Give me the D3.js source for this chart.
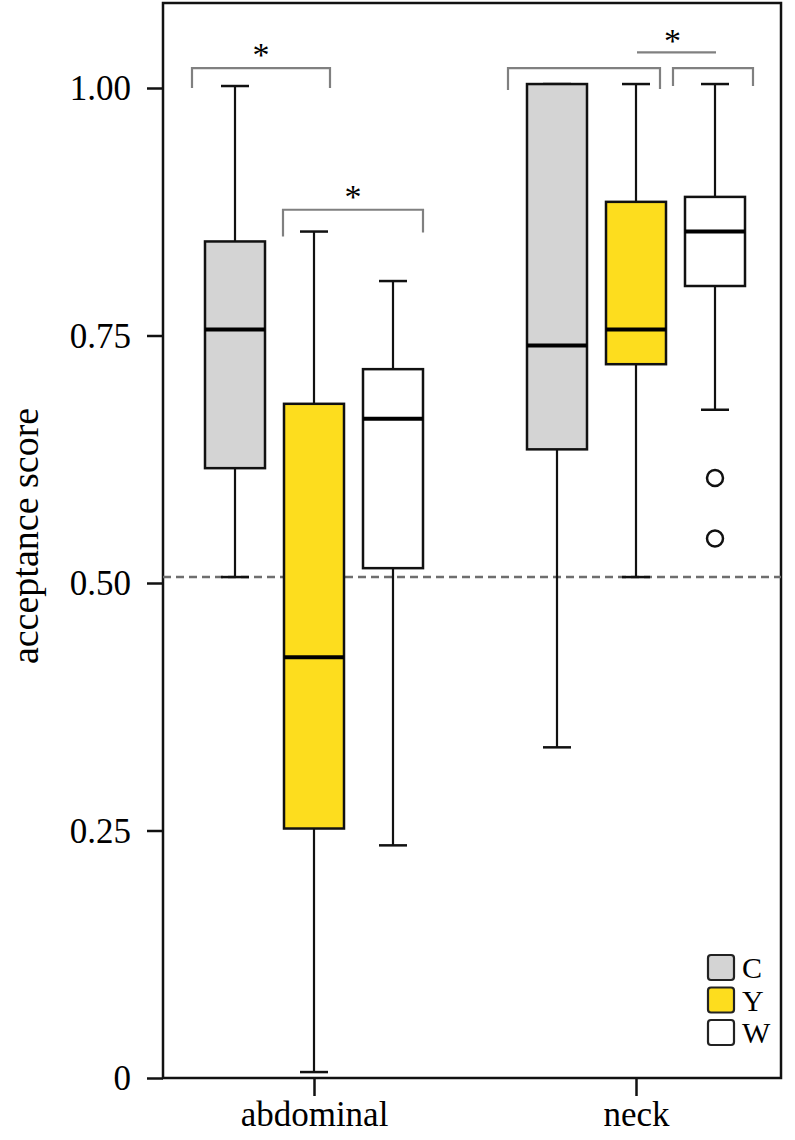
<!DOCTYPE html>
<html>
<head>
<meta charset="utf-8">
<script src="https://cdn.jsdelivr.net/npm/d3@7"></script>
<style>
  html, body { margin: 0; padding: 0; background: #fff; }
  svg { display: block; }
  text { font-family: "Liberation Serif", "Times New Roman", serif; fill: #000; }
</style>
</head>
<body>
<svg id="chart" width="795" height="1140"></svg>
<script>
// ---- data ----
const categories = ["abdominal", "neck"];
const groups = ["C", "Y", "W"];
const groupColors = ["#d4d4d4", "#fddd1e", "#ffffff"];
// [min, q1, median, q3, max]
const abdominalC = [0.506, 0.616, 0.756, 0.845, 1.002];
const abdominalY = [0.006, 0.252, 0.425, 0.681, 0.855];
const abdominalW = [0.235, 0.515, 0.666, 0.716, 0.805];
const neckC = [0.334, 0.635, 0.740, 1.004, 1.004];
const neckY = [0.506, 0.721, 0.756, 0.885, 1.004];
const neckW = [0.675, 0.800, 0.855, 0.890, 1.004];
const neckWOutliers = [0.606, 0.545];
const yTicks = [0, 0.25, 0.5, 0.75, 1.0];
const yTickLabels = ["0", "0.25", "0.50", "0.75", "1.00"];
const referenceLine = 0.506;
const yLabel = "acceptance score";

const stats = {
  abdominal: {C: abdominalC, Y: abdominalY, W: abdominalW},
  neck: {C: neckC, Y: neckY, W: neckW}
};
const outliers = [{cat: "neck", grp: "W", values: neckWOutliers}];

// ---- layout ----
const svg = d3.select("#chart");
const frame = {left: 163, right: 781, top: 3, bottom: 1078};

const y = d3.scaleLinear().domain([0, 1]).range([1078, 88]);
const x = d3.scalePoint().domain(categories).range([314, 636]);
const xg = d3.scalePoint().domain(groups).range([-79, 79]);
const color = d3.scaleOrdinal().domain(groups).range(groupColors);
const boxW = 60, capW = 28;

// frame
svg.append("rect")
  .attr("x", frame.left).attr("y", frame.top)
  .attr("width", frame.right - frame.left).attr("height", frame.bottom - frame.top)
  .attr("fill", "none").attr("stroke", "#111").attr("stroke-width", 2.5);

// y axis
const yAxis = d3.axisLeft(y).tickValues(yTicks)
  .tickFormat((d, i) => yTickLabels[i]).tickSize(16).tickPadding(16);
const gy = svg.append("g").attr("transform", `translate(${frame.left},0)`).call(yAxis);
gy.select(".domain").remove();
gy.selectAll(".tick line").attr("stroke", "#111").attr("stroke-width", 2.5);
gy.selectAll(".tick text").style("font-size", "35px").style("font-family", "Liberation Serif").attr("dy", "0.34em");

// x axis
const xAxis = d3.axisBottom(x).tickSize(18).tickPadding(5);
const gx = svg.append("g").attr("transform", `translate(0,${frame.bottom})`).call(xAxis);
gx.select(".domain").remove();
gx.selectAll(".tick line").attr("stroke", "#111").attr("stroke-width", 2.5);
gx.selectAll(".tick text").style("font-size", "35px").style("font-family", "Liberation Serif").attr("dy", "0.71em");

// y label
svg.append("text")
  .attr("transform", `translate(38,${y(0.5475)}) rotate(-90)`)
  .attr("text-anchor", "middle")
  .style("font-size", "38px")
  .text(yLabel);

// reference dashed line
svg.append("line")
  .attr("x1", frame.left).attr("x2", frame.right)
  .attr("y1", y(referenceLine)).attr("y2", y(referenceLine))
  .attr("stroke", "#6e6e6e").attr("stroke-width", 2.5).attr("stroke-dasharray", "8,5");

// boxes
const boxData = [];
categories.forEach(c => groups.forEach(g => boxData.push({cat: c, grp: g, s: stats[c][g]})));

const bx = svg.append("g").selectAll("g").data(boxData).join("g")
  .attr("transform", d => `translate(${x(d.cat) + xg(d.grp)},0)`);

bx.append("line").attr("x1", 0).attr("x2", 0)
  .attr("y1", d => y(d.s[0])).attr("y2", d => y(d.s[1]))
  .attr("stroke", "#111").attr("stroke-width", 2.2);
bx.append("line").attr("x1", 0).attr("x2", 0)
  .attr("y1", d => y(d.s[3])).attr("y2", d => y(d.s[4]))
  .attr("stroke", "#111").attr("stroke-width", 2.2);
bx.append("line").attr("x1", -capW / 2).attr("x2", capW / 2)
  .attr("y1", d => y(d.s[0])).attr("y2", d => y(d.s[0]))
  .attr("stroke", "#111").attr("stroke-width", 2.5);
bx.append("line").attr("x1", -capW / 2).attr("x2", capW / 2)
  .attr("y1", d => y(d.s[4])).attr("y2", d => y(d.s[4]))
  .attr("stroke", "#111").attr("stroke-width", 2.5);
bx.append("rect")
  .attr("x", -boxW / 2).attr("width", boxW)
  .attr("y", d => y(d.s[3])).attr("height", d => y(d.s[1]) - y(d.s[3]))
  .attr("fill", d => color(d.grp)).attr("stroke", "#111").attr("stroke-width", 2.5);
bx.append("line").attr("x1", -boxW / 2).attr("x2", boxW / 2)
  .attr("y1", d => y(d.s[2])).attr("y2", d => y(d.s[2]))
  .attr("stroke", "#000").attr("stroke-width", 4);

// outliers
outliers.forEach(o => {
  svg.append("g").selectAll("circle").data(o.values).join("circle")
    .attr("cx", x(o.cat) + xg(o.grp)).attr("cy", d => y(d)).attr("r", 8)
    .attr("fill", "#fff").attr("stroke", "#111").attr("stroke-width", 2.5);
});

// significance brackets
const bg = svg.append("g").attr("fill", "none").attr("stroke", "#808080").attr("stroke-width", 2.2);
function bracket(x1, x2, yTop, yLeg1, yLeg2) {
  bg.append("path").attr("d", `M${x1},${yLeg1}V${yTop}H${x2}V${yLeg2}`);
}
function star(cx, cy) {
  svg.append("text").attr("x", cx).attr("y", cy).attr("text-anchor", "middle")
    .style("font-size", "34px").text("*");
}
// abdominal C vs Y
{
  const x1 = x("abdominal") + xg("C") - 43, x2 = x("abdominal") + xg("Y") + 16;
  bracket(x1, x2, y(1.02), y(1.0), y(1.0));
  star((x1 + x2) / 2, y(1.02) - 2);
}
// abdominal Y vs W
{
  const x1 = x("abdominal") + xg("Y") - 31, x2 = x("abdominal") + xg("W") + 30;
  bracket(x1, x2, y(0.877), y(0.85), y(0.854));
  star((x1 + x2) / 2, y(0.877) - 2);
}
// neck C vs Y
{
  const x1 = x("neck") + xg("C") - 49, x2 = x("neck") + xg("Y") + 24;
  bracket(x1, x2, y(1.02), y(0.998), y(0.999));
}
// neck Y vs W
{
  const x1 = x("neck") + xg("Y") + 37, x2 = x("neck") + xg("W") + 38;
  bracket(x1, x2, y(1.02), y(1.002), y(1.002));
  const lx1 = x("neck") + xg("Y") + 1, lx2 = x("neck") + xg("W") + 1;
  bg.append("line").attr("x1", lx1).attr("x2", lx2).attr("y1", y(1.036)).attr("y2", y(1.036));
  star((lx1 + lx2) / 2 - 4, y(1.036));
}

// legend
const lg = svg.append("g").selectAll("g").data(groups).join("g")
  .attr("transform", (d, i) => `translate(708,${955 + i * 32.5})`);
lg.append("rect").attr("width", 26).attr("height", 25).attr("rx", 3)
  .attr("fill", d => color(d)).attr("stroke", "#222").attr("stroke-width", 2.2);
lg.append("text").attr("x", 34).attr("y", 12.5).attr("dy", "0.35em")
  .style("font-size", "30px").text(d => d);
</script>
</body>
</html>
